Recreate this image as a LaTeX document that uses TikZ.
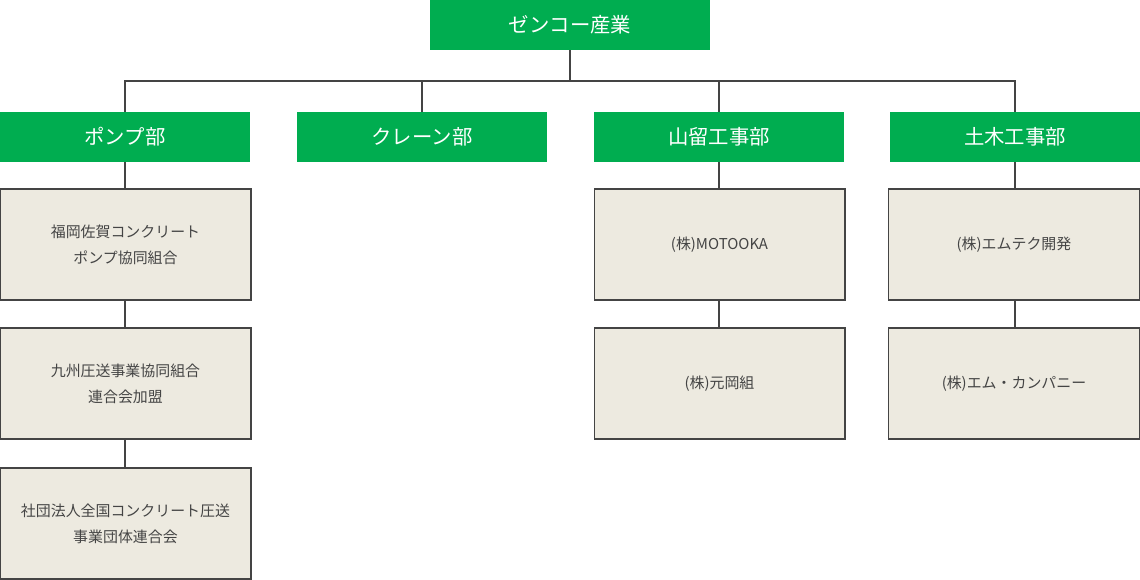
\documentclass[tikz,border=0pt]{standalone}
\usepackage{fontspec}
\setmainfont{Noto Sans CJK JP}
\usepackage{tikz}
\usetikzlibrary{positioning}
\definecolor{zgreen}{RGB}{0,173,80}
\definecolor{zbeige}{RGB}{237,234,224}
\definecolor{zline}{RGB}{68,68,68}
\tikzstyle{head} = [fill=zgreen, text=white, inner sep=0pt, minimum height=1cm, font=\fontsize{11.6}{13}\selectfont]
\tikzstyle{member} = [draw=zline, line width=0.6pt, fill=zbeige, text=zline, inner sep=0pt, minimum width=5.02cm, minimum height=2.22cm, align=center, font=\fontsize{8.5}{14.7}\selectfont]
\tikzstyle{link} = [draw=zline, line width=0.6pt]

\begin{document}
\begin{tikzpicture}[x=0.02cm, y=-0.02cm]
        \useasboundingbox (0,0) rectangle (1140,580);
        % top
        \node [head, minimum width=5.6cm] (zenko) at (570,25) {ゼンコー産業};
        % departments
        \node [head, minimum width=5cm] (pump) at (125,137) {ポンプ部};
        \node [head, minimum width=5cm] (crane) at (422,137) {クレーン部};
        \node [head, minimum width=5cm] (yamadome) at (719,137) {山留工事部};
        \node [head, minimum width=5cm] (doboku) at (1015,137) {土木工事部};
        \coordinate (bus) at (570,81);
        % members
        \node [member] (pump1) at (125.5,244.5) {福岡佐賀コンクリート\\ポンプ協同組合};
        \node [member] (pump2) at (125.5,383.5) {九州圧送事業協同組合\\連合会加盟};
        \node [member] (pump3) at (125.5,523.5) {社団法人全国コンクリート圧送\\事業団体連合会};
        \node [member] (yama1) at (719.5,244.5) {(株)MOTOOKA};
        \node [member] (yama2) at (719.5,383.5) {(株)元岡組};
        \node [member] (dobo1) at (1014,244.5) {(株)エムテク開発};
        \node [member] (dobo2) at (1014,383.5) {(株)エム・カンパニー};
        % links
        \draw [link] (zenko.south) -- (bus);
        \draw [link] (pump.north) |- (bus) -| (doboku.north);
        \draw [link] (crane.north) -- (crane.north |- bus);
        \draw [link] (yamadome.north) -- (yamadome.north |- bus);
        \draw [link] (pump.south) -- (pump.south |- pump1.north);
        \draw [link] (pump1.south -| pump.south) -- (pump.south |- pump2.north);
        \draw [link] (pump2.south -| pump.south) -- (pump.south |- pump3.north);
        \draw [link] (yamadome.south) -- (yamadome.south |- yama1.north);
        \draw [link] (yama1.south -| yamadome.south) -- (yamadome.south |- yama2.north);
        \draw [link] (doboku.south) -- (doboku.south |- dobo1.north);
        \draw [link] (dobo1.south -| doboku.south) -- (doboku.south |- dobo2.north);
\end{tikzpicture}
\end{document}
